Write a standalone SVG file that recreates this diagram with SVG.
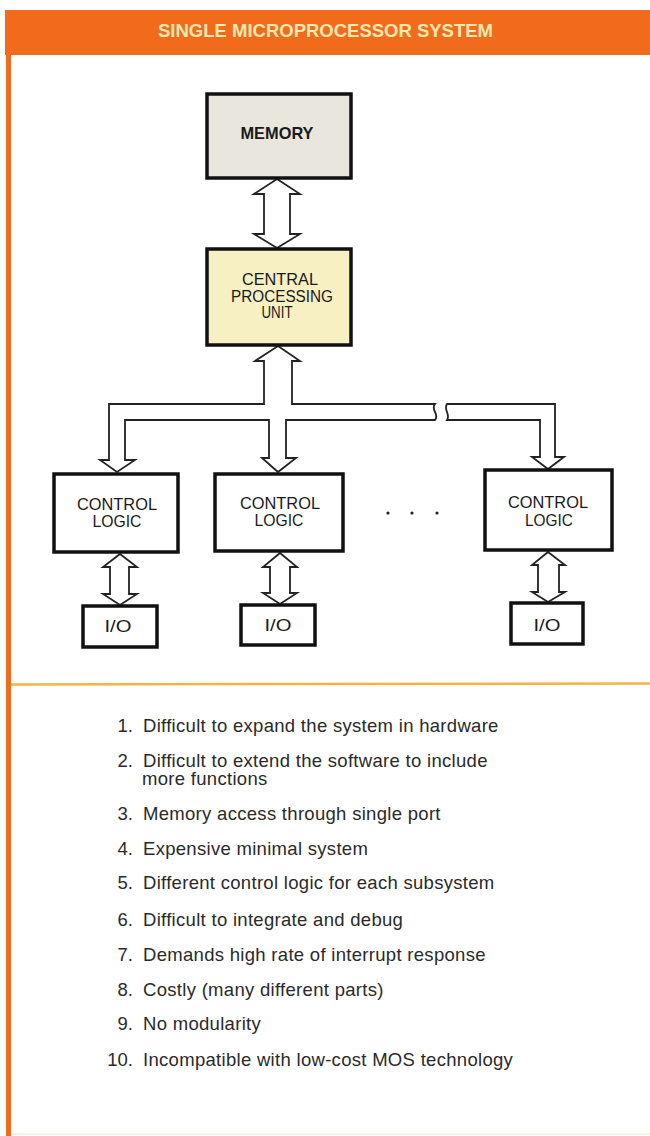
<svg xmlns="http://www.w3.org/2000/svg" width="650" height="1136" viewBox="0 0 650 1136">
<style>
.box{stroke:#111;stroke-width:3.5;fill:#fff}
.lbl{font-family:"Liberation Sans",Arial,sans-serif;font-size:17px;fill:#1a1a1a;text-anchor:middle}
.conn{fill:#fff;stroke:#222;stroke-width:1.8;stroke-linejoin:miter}
.item{font-family:"Liberation Sans",Arial,sans-serif;font-size:18.5px;letter-spacing:0.3px;fill:#2a2a2a}
.num{font-family:"Liberation Sans",Arial,sans-serif;font-size:18.5px;fill:#2a2a2a;text-anchor:end}
</style>
<rect x="0" y="0" width="650" height="1136" fill="#fff"/>
<g id="frame">
<rect x="5" y="10" width="645" height="45" fill="#f26b1d"/>
<rect x="6" y="54" width="5" height="1082" fill="#f26b1d"/>
<line x1="11" y1="684.5" x2="650" y2="683.5" stroke="#f4b346" stroke-width="2.5"/>
<line x1="11" y1="1134" x2="650" y2="1134" stroke="#f3eedc" stroke-width="1.5"/>
<text x="325.5" y="37" font-family="'Liberation Sans',Arial,sans-serif" font-size="18" font-weight="bold" fill="#fde9ad" text-anchor="middle" textLength="335" lengthAdjust="spacingAndGlyphs">SINGLE MICROPROCESSOR SYSTEM</text>
</g>
<g id="connectors">
<path class="conn" d="M277,179 L300,194 L290,194 L290,234 L300,234 L277,248 L254,234 L264,234 L264,194 L254,194 Z"/>
<path class="conn" d="M278,346 L300,361 L292,361 L292,404 L435,404 C430,410 440,414 435,420 L286,420 L286,458 L296,458 L278,472 L262,458 L269,458 L269,420 L125,420 L125,460 L135,460 L117,472 L100,460 L109,460 L109,404 L264,404 L264,361 L255,361 Z"/>
<path class="conn" d="M447,404 L555,404 L555,457 L564,457 L548,469 L532,457 L540,457 L540,420 L447,420 C451,414 443,410 447,404 Z"/>
<path class="conn" d="M120,554 L137,567 L129,567 L129,594 L137,594 L120,605 L103,594 L110,594 L110,567 L103,567 Z"/>
<path class="conn" d="M280,553 L297,567 L290,567 L290,593 L297,593 L280,604 L263,593 L270,593 L270,567 L263,567 Z"/>
<path class="conn" d="M548,552 L565,565 L559,565 L559,592 L565,592 L548,602 L532,592 L538,592 L538,565 L532,565 Z"/>
</g>
<g id="memory">
<rect class="box" x="207" y="94" width="144" height="84" style="fill:#e9e6dd"/>
<text class="lbl" x="277" y="139" font-weight="bold" textLength="73" lengthAdjust="spacingAndGlyphs">MEMORY</text>
</g>
<g id="cpu">
<rect class="box" x="207" y="249" width="144" height="96" style="fill:#f6f0c2"/>
<text class="lbl" x="280" y="285" style="font-size:16px" textLength="76" lengthAdjust="spacingAndGlyphs">CENTRAL</text>
<text class="lbl" x="282" y="301.5" style="font-size:16px" textLength="102" lengthAdjust="spacingAndGlyphs">PROCESSING</text>
<text class="lbl" x="277" y="318" style="font-size:16px" textLength="31" lengthAdjust="spacingAndGlyphs">UNIT</text>
</g>
<g id="control1">
<rect class="box" x="54" y="474" width="124" height="78"/>
<text class="lbl" x="117" y="510" textLength="80" lengthAdjust="spacingAndGlyphs">CONTROL</text>
<text class="lbl" x="117" y="527" textLength="49" lengthAdjust="spacingAndGlyphs">LOGIC</text>
</g>
<g id="control2">
<rect class="box" x="215" y="474" width="128" height="77"/>
<text class="lbl" x="280" y="509" textLength="80" lengthAdjust="spacingAndGlyphs">CONTROL</text>
<text class="lbl" x="279" y="526" textLength="49" lengthAdjust="spacingAndGlyphs">LOGIC</text>
</g>
<g id="dots">
<circle cx="388" cy="513" r="1.6" fill="#222"/>
<circle cx="412" cy="513" r="1.6" fill="#222"/>
<circle cx="437" cy="513" r="1.6" fill="#222"/>
</g>
<g id="control3">
<rect class="box" x="485" y="470" width="127" height="80"/>
<text class="lbl" x="548" y="508" textLength="80" lengthAdjust="spacingAndGlyphs">CONTROL</text>
<text class="lbl" x="549" y="526" textLength="48" lengthAdjust="spacingAndGlyphs">LOGIC</text>
</g>
<g id="io1">
<rect class="box" x="83" y="606" width="74" height="41"/>
<text class="lbl" x="118" y="632" textLength="27" lengthAdjust="spacingAndGlyphs">I/O</text>
</g>
<g id="io2">
<rect class="box" x="241" y="605" width="74" height="40"/>
<text class="lbl" x="278" y="631" textLength="27" lengthAdjust="spacingAndGlyphs">I/O</text>
</g>
<g id="io3">
<rect class="box" x="511" y="603" width="72" height="41"/>
<text class="lbl" x="547" y="631" textLength="27" lengthAdjust="spacingAndGlyphs">I/O</text>
</g>
<g id="list">
<text class="num" x="133" y="732">1.</text><text class="item" x="143" y="732">Difficult to expand the system in hardware</text>
<text class="num" x="133" y="767">2.</text><text class="item" x="143" y="767">Difficult to extend the software to include</text>
<text class="item" x="142" y="784.5">more functions</text>
<text class="num" x="133" y="820">3.</text><text class="item" x="143" y="820">Memory access through single port</text>
<text class="num" x="133" y="855">4.</text><text class="item" x="143" y="855">Expensive minimal system</text>
<text class="num" x="133" y="889">5.</text><text class="item" x="143" y="889">Different control logic for each subsystem</text>
<text class="num" x="133" y="926">6.</text><text class="item" x="143" y="926">Difficult to integrate and debug</text>
<text class="num" x="133" y="961">7.</text><text class="item" x="143" y="961">Demands high rate of interrupt response</text>
<text class="num" x="133" y="996">8.</text><text class="item" x="143" y="996">Costly (many different parts)</text>
<text class="num" x="133" y="1030">9.</text><text class="item" x="143" y="1030">No modularity</text>
<text class="num" x="133" y="1066">10.</text><text class="item" x="143" y="1066">Incompatible with low-cost MOS technology</text>
</g>
</svg>
